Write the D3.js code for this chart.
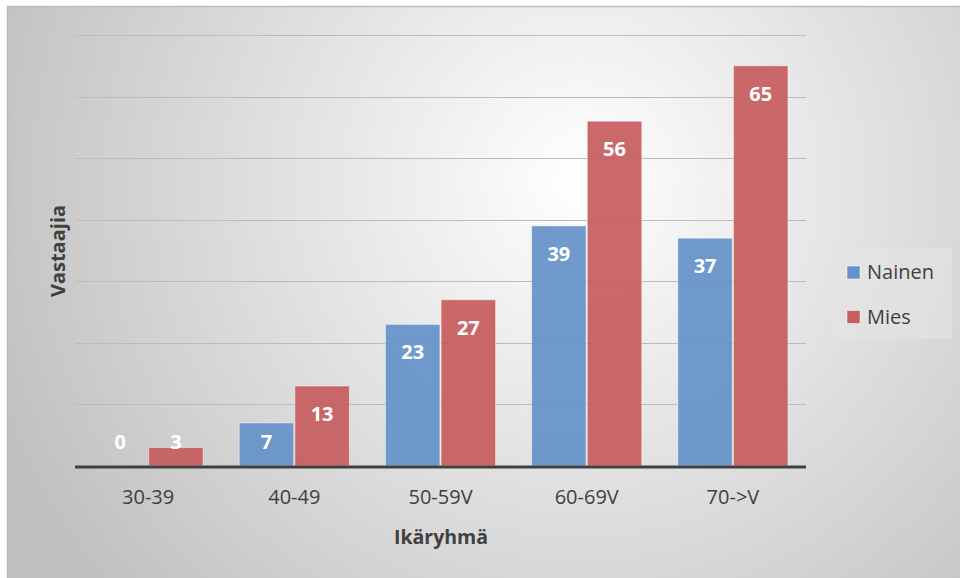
<!DOCTYPE html>
<html lang="fi">
<head>
<meta charset="utf-8">
<title>Vastaajat ikäryhmittäin</title>
<script src="https://d3js.org/d3.v7.min.js"></script>
<style>
  html, body { margin: 0; padding: 0; background: #fff; }
  svg { display: block; font-family: "Open Sans", "Noto Sans", sans-serif; }
</style>
</head>
<body>
<div id="chart"></div>
<script>
// data
var groups = ["30-39", "40-49", "50-59V", "60-69V", "70->V"];
var nainen = [0, 7, 23, 39, 37];
var mies = [3, 13, 27, 56, 65];
var seriesNames = ["Nainen", "Mies"];
var yTicks = [0, 10, 20, 30, 40, 50, 60, 70];

var width = 960, height = 578;
var colors = ["#6592c8", "#c75e5f"];

var svg = d3.select("#chart").append("svg")
    .attr("width", width)
    .attr("height", height);

// background gradient
var defs = svg.append("defs");
var grad = defs.append("radialGradient")
    .attr("id", "bg")
    .attr("gradientUnits", "userSpaceOnUse")
    .attr("cx", 580).attr("cy", 180).attr("r", 640);
grad.append("stop").attr("offset", "0%").attr("stop-color", "#ffffff");
grad.append("stop").attr("offset", "100%").attr("stop-color", "#bfbfbf");

svg.append("rect")
    .attr("x", 7).attr("y", 6)
    .attr("width", width - 7).attr("height", height - 6)
    .attr("fill", "url(#bg)");
svg.append("path")
    .attr("d", "M7.5," + height + "V6.5H" + width)
    .attr("fill", "none")
    .attr("stroke", "#bdbdbd")
    .attr("stroke-width", 1.5);

var x = d3.scaleBand()
    .domain(groups)
    .range([75, 806])
    .paddingInner(0)
    .paddingOuter(0);

var x1 = d3.scaleBand()
    .domain(seriesNames)
    .range([18, x.bandwidth() - 18])
    .paddingInner(0.02);

var y = d3.scaleLinear()
    .domain([0, 70])
    .range([466, 35]);

// gridlines
svg.append("g")
  .selectAll("line")
  .data(yTicks.slice(1))
  .enter().append("line")
    .attr("x1", 75).attr("x2", 806)
    .attr("y1", d => Math.round(y(d)) + 0.5)
    .attr("y2", d => Math.round(y(d)) + 0.5)
    .attr("stroke", "#bcbcbc")
    .attr("stroke-width", 1.2);

// bars
var rows = groups.map((g, i) => ({ g: g, vals: [nainen[i], mies[i]] }));

var grp = svg.append("g")
  .selectAll("g")
  .data(rows)
  .enter().append("g")
    .attr("transform", d => "translate(" + x(d.g) + ",0)");

grp.selectAll("rect")
  .data(d => d.vals.map((v, j) => ({ s: seriesNames[j], v: v, j: j })))
  .enter().append("rect")
    .attr("x", d => x1(d.s))
    .attr("width", x1.bandwidth())
    .attr("y", d => y(d.v))
    .attr("height", d => y(0) - y(d.v))
    .attr("fill", d => colors[d.j])
    .attr("fill-opacity", 0.93)
    .attr("stroke", "rgba(255,255,255,0.5)")
    .attr("stroke-width", 1);

grp.selectAll("text")
  .data(d => d.vals.map((v, j) => ({ s: seriesNames[j], v: v })))
  .enter().append("text")
    .attr("x", d => x1(d.s) + x1.bandwidth() / 2)
    .attr("y", d => Math.min(y(d.v) + 28, 442) + 7)
    .attr("text-anchor", "middle")
    .attr("fill", "#fff")
    .attr("font-size", 20)
    .attr("font-weight", "bold")
    .text(d => d.v);

// baseline
svg.append("line")
    .attr("x1", 75).attr("x2", 806)
    .attr("y1", y(0) + 1).attr("y2", y(0) + 1)
    .attr("stroke", "#404040")
    .attr("stroke-width", 3);

// category labels
var xAxis = d3.axisBottom(x).tickSize(0).tickPadding(0);
var xg = svg.append("g")
    .attr("transform", "translate(0," + 504 + ")")
    .call(xAxis);
xg.select(".domain").remove();
xg.selectAll("text")
    .attr("dy", 0)
    .attr("fill", "#404040")
    .attr("font-size", 20)
    .attr("font-family", "\"Open Sans\", sans-serif");

// axis titles
svg.append("text")
    .attr("x", 441).attr("y", 544)
    .attr("text-anchor", "middle")
    .attr("fill", "#404040")
    .attr("font-size", 19.5)
    .attr("font-weight", "bold")
    .text("Ikäryhmä");

svg.append("text")
    .attr("transform", "translate(65,251) rotate(-90)")
    .attr("text-anchor", "middle")
    .attr("fill", "#404040")
    .attr("font-size", 20)
    .attr("font-weight", "bold")
    .text("Vastaajia");

// legend
var legend = svg.append("g");
legend.append("rect")
    .attr("x", 835).attr("y", 248)
    .attr("width", 117).attr("height", 91)
    .attr("fill", "#e4e4e4")
    .attr("fill-opacity", 0.6);

var li = legend.selectAll("g.item")
  .data(seriesNames)
  .enter().append("g")
    .attr("class", "item")
    .attr("transform", (d, i) => "translate(847," + (266 + i * 44.5) + ")");
li.append("rect")
    .attr("width", 13).attr("height", 13)
    .attr("fill", (d, i) => colors[i])
    .attr("stroke", "rgba(255,255,255,0.5)");
li.append("text")
    .attr("x", 20).attr("y", 13)
    .attr("fill", "#404040")
    .attr("font-size", 20)
    .text(d => d);
</script>
</body>
</html>
